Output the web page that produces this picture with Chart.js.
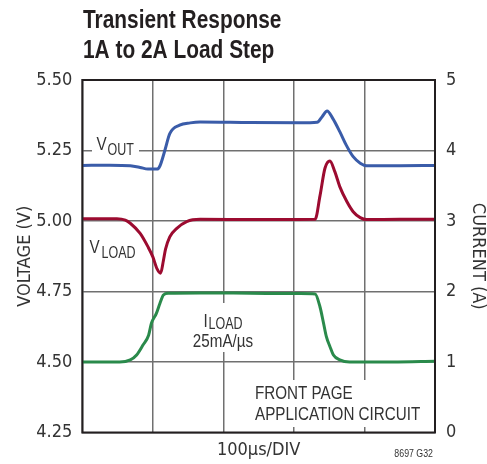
<!DOCTYPE html>
<html>
<head>
<meta charset="utf-8">
<script src="https://cdn.jsdelivr.net/npm/chart.js@4.4.1/dist/chart.umd.min.js"></script>
<style>
  html, body { margin: 0; padding: 0; background: #fff; }
  #wrap { width: 487px; height: 464px; }
</style>
</head>
<body>
<div id="wrap"><canvas id="chart" width="487" height="464"></canvas></div>
<script>
// time axis in µs (100µs/DIV)
const voutTime = [0, 39, 68, 82, 93, 106, 110, 117, 124, 138, 153, 167, 238, 309, 333, 340, 347, 355, 365, 374, 384, 394, 403, 450, 500];
const voutVals = [5.197, 5.198, 5.196, 5.19, 5.184, 5.184, 5.195, 5.25, 5.31, 5.34, 5.348, 5.351, 5.349, 5.348, 5.35, 5.37, 5.39, 5.364, 5.317, 5.27, 5.228, 5.205, 5.196, 5.196, 5.197];

const vloadTime = [0, 49, 61, 68, 82, 93, 100, 106, 111, 115, 118, 124, 134, 148, 167, 250, 330, 337, 344, 351, 358, 365, 375, 384, 394, 403, 450, 500];
const vloadVals = [5.008, 5.008, 5.003, 4.992, 4.956, 4.909, 4.873, 4.83, 4.815, 4.86, 4.9, 4.944, 4.974, 4.998, 5.006, 5.005, 5.006, 5.09, 5.187, 5.213, 5.175, 5.122, 5.069, 5.033, 5.012, 5.005, 5.006, 5.006];

const iloadTime = [0, 53, 68, 77, 86, 94, 98, 105, 110, 115, 122, 167, 238, 309, 330, 337, 342, 346, 351, 356, 365, 379, 440, 500];
const iloadVals = [1.0, 1.0, 1.03, 1.1, 1.24, 1.38, 1.55, 1.69, 1.83, 1.95, 1.975, 1.98, 1.975, 1.97, 1.965, 1.78, 1.55, 1.36, 1.22, 1.1, 1.03, 1.0, 1.0, 1.01];

const voltTicks = [4.25, 4.5, 4.75, 5.0, 5.25, 5.5];
const ampTicks = [0, 1, 2, 3, 4, 5];

const AXIS_FONT = '"DejaVu Sans Condensed", "Liberation Sans", sans-serif';
const LABEL_FONT = '"Liberation Sans", Arial, sans-serif';
const TEXT = "#333";
const GRID = "#707070";

function pts(xs, ys) {
  return xs.map((x, i) => ({ x, y: ys[i] }));
}

// Liberation Sans squeezed sideways, close to the condensed face of the original
function label(ctx, text, x, y, size, opt = {}) {
  const sx = opt.sx || 0.8;
  ctx.save();
  ctx.font = (opt.bold ? "bold " : "") + size + "px " + LABEL_FONT;
  ctx.fillStyle = opt.color || TEXT;
  ctx.textBaseline = "alphabetic";
  ctx.textAlign = opt.align || "left";
  ctx.translate(x, y);
  ctx.scale(sx, 1);
  ctx.fillText(text, 0, 0);
  const w = ctx.measureText(text).width * sx;
  ctx.restore();
  return w;
}

function labelWidth(ctx, text, size, sx = 0.8) {
  ctx.save();
  ctx.font = size + "px " + LABEL_FONT;
  const w = ctx.measureText(text).width * sx;
  ctx.restore();
  return w;
}

const annotations = {
  id: "annotations",
  beforeDatasetsDraw(chart) {
    // white label backgrounds break the grid lines
    const ctx = chart.ctx;
    ctx.save();
    ctx.fillStyle = "#fff";
    ctx.fillRect(92, 143, 47, 14);
    ctx.fillRect(190, 303, 67, 49);
    ctx.fillRect(250, 380, 182, 47);
    ctx.restore();
  },
  afterDraw(chart) {
    const ctx = chart.ctx;
    const a = chart.chartArea;
    ctx.save();
    ctx.strokeStyle = "#231f20";
    ctx.lineWidth = 2;
    ctx.strokeRect(a.left, a.top, a.right - a.left, a.bottom - a.top);
    ctx.restore();

    label(ctx, "Transient Response", 83, 28, 25, { bold: true, sx: 0.835, color: "#231f20" });
    label(ctx, "1A to 2A Load Step", 83, 58, 25, { bold: true, sx: 0.835, color: "#231f20" });

    label(ctx, "V", 96.5, 150, 19);
    label(ctx, "OUT", 107.5, 155, 16, { sx: 0.78 });
    label(ctx, "V", 89.5, 253, 19);
    label(ctx, "LOAD", 101.5, 258, 16, { sx: 0.78 });

    // ILOAD centred on the grid line
    const cx = 223;
    const wI = labelWidth(ctx, "I", 19);
    const wL = labelWidth(ctx, "LOAD", 16, 0.78);
    const x0 = cx - (wI + wL + 1) / 2;
    label(ctx, "I", x0, 327, 19);
    label(ctx, "LOAD", x0 + wI + 1, 328.5, 16, { sx: 0.78 });
    label(ctx, "25mA/µs", cx, 347, 19, { align: "center" });

    label(ctx, "FRONT PAGE", 255, 399, 19);
    label(ctx, "APPLICATION CIRCUIT", 255, 420, 19);

    label(ctx, "8697 G32", 433, 457, 11, { align: "right" });
  }
};

new Chart(document.getElementById("chart"), {
  type: "scatter",
  data: {
    datasets: [
      { label: "VOUT", data: pts(voutTime, voutVals), borderColor: "#3a5ca9", yAxisID: "y" },
      { label: "VLOAD", data: pts(vloadTime, vloadVals), borderColor: "#9c0b30", yAxisID: "y" },
      { label: "ILOAD", data: pts(iloadTime, iloadVals), borderColor: "#2a8a4b", yAxisID: "y1" }
    ]
  },
  options: {
    responsive: false,
    animation: false,
    showLine: true,
    layout: { padding: { top: 80, left: 0, right: 0, bottom: 0 } },
    elements: {
      point: { radius: 0 },
      line: { borderWidth: 3, cubicInterpolationMode: "monotone", fill: false }
    },
    plugins: { legend: { display: false }, tooltip: { enabled: false } },
    scales: {
      x: {
        type: "linear",
        min: 0,
        max: 500,
        ticks: { stepSize: 100, display: false },
        grid: { color: GRID, lineWidth: 1.5, drawTicks: false },
        border: { display: false },
        title: { display: true, text: "100µs/DIV", color: TEXT, font: { family: AXIS_FONT, size: 18, lineHeight: 1 }, padding: { top: 0, bottom: 5 } },
        afterFit: (s) => { s.height = 31.5; }
      },
      y: {
        position: "left",
        min: 4.25,
        max: 5.5,
        afterBuildTicks: (s) => { s.ticks = voltTicks.map((v) => ({ value: v })); },
        ticks: { padding: 10, color: TEXT, font: { family: AXIS_FONT, size: 18 }, callback: (v) => Number(v).toFixed(2) },
        grid: { color: GRID, lineWidth: 1.5, drawTicks: false },
        border: { display: false },
        title: { display: true, text: "VOLTAGE (V)", color: TEXT, font: { family: AXIS_FONT, size: 18, lineHeight: 1 }, padding: { top: 16, bottom: 0 } },
        afterFit: (s) => { s.width = 82.3; }
      },
      y1: {
        position: "right",
        min: 0,
        max: 5,
        afterBuildTicks: (s) => { s.ticks = ampTicks.map((v) => ({ value: v })); },
        ticks: { padding: 11, color: TEXT, font: { family: AXIS_FONT, size: 18 } },
        grid: { display: false, drawTicks: false },
        border: { display: false },
        title: { display: true, text: "CURRENT (A)", color: TEXT, font: { family: AXIS_FONT, size: 18, lineHeight: 1 }, padding: { top: 0.5, bottom: 0 } },
        afterFit: (s) => { s.width = 52; }
      }
    }
  },
  plugins: [annotations]
});
</script>
</body>
</html>
